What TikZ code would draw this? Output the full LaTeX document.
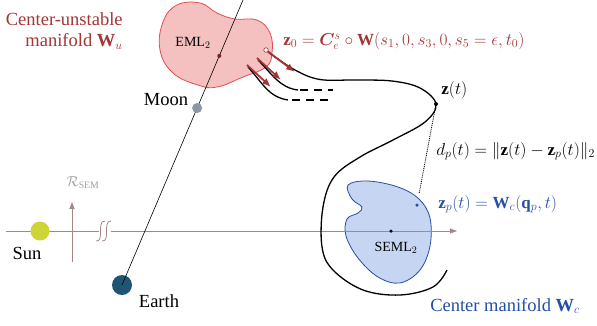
\documentclass[tikz,border=0pt]{standalone}
\usepackage{amsmath}
\usepackage{bm}
\usepackage{fontspec}
\setmainfont{Liberation Serif}
\usetikzlibrary{arrows.meta}
\definecolor{cured}{RGB}{165,52,52}
\definecolor{cufill}{RGB}{244,192,192}
\definecolor{cuedge}{RGB}{226,78,78}
\definecolor{cblue}{RGB}{38,78,165}
\definecolor{cfill}{RGB}{198,214,242}
\definecolor{axcol}{RGB}{165,135,135}
\definecolor{suncol}{RGB}{205,212,55}
\definecolor{earthcol}{RGB}{30,85,115}
\definecolor{mooncol}{RGB}{140,150,165}

\begin{document}
\begin{tikzpicture}[x=1pt, y=-1pt, >={Stealth[length=7pt]}, line width=0.8pt,
  font=\fontsize{18.5}{21}\selectfont,
  eq/.style={font=\fontsize{17}{20}\selectfont},
  small/.style={font=\fontsize{14}{16}\selectfont},
  body/.style={circle, inner sep=0pt, minimum size=#1},
  pt/.style={circle, fill, inner sep=0pt, minimum size=4pt},
  redarrow/.style={cured, line width=1.8pt, -{Latex[length=9pt,width=7pt]}}]
  \useasboundingbox (0,0) rectangle (597,325);
  \coordinate (T) at (243,0);
  \node[body=20pt, fill=earthcol] (earth) at (122,285) {};
  % variedad centro-inestable
  \draw[cuedge, fill=cufill] plot[smooth cycle, tension=0.7] coordinates
    {(177,5) (200,3) (217,13) (235,19) (257,20) (270,33) (272,53) (266,67)
     (243,77) (217,87) (198,85) (173,73) (160,50) (163,22)};
  % variedad centro
  \draw[cblue, fill=cfill] plot[smooth cycle, tension=0.6] coordinates
    {(348,185) (368,181) (398,187) (419,199) (430,218) (430,246) (420,270)
     (400,283) (378,277) (358,258) (346,236) (347,219) (358,213) (362,207)
     (352,199)};
  % eje Sol-Tierra
  \draw[axcol, -{Triangle[length=7pt,width=5pt]}] (6,231) -- (457,231);
  \draw[axcol, -{Triangle[length=7pt,width=5pt]}] (72,262) -- (72,202);
  \draw[axcol, fill=white, draw=none] (99,225) rectangle (111,237);
  \draw[axcol] (96,241) .. controls (105,242) and (96,221) .. (105,221);
  \draw[axcol] (102,241) .. controls (111,242) and (102,221) .. (111,221);
  \node[gray!75, small] (rsem) at (83,183) {$\mathcal{R}_{\mathrm{SEM}}$};
  % linea Tierra-Luna
  \draw[line width=0.6pt] (earth.center) -- (T)
    node[pos=0.621, body=10pt, fill=mooncol] (moon) {}
    node[pos=0.804, pt, fill=cured!70!black] (eml2) {};
  \node[body=19pt, fill=suncol] (sun) at (40,231) {};
  % trayectorias
  \node[pt, fill=white, draw=cured, line width=0.6pt, minimum size=4.5pt] (z0) at (266,50) {};
  \node[pt] (zt) at (436,104) {};
  \node[pt, fill=cblue, minimum size=3.5pt] (zp) at (417,205) {};
  \node[pt, minimum size=3.5pt] (seml2) at (391,231) {};
  \draw[line width=1.3pt] plot[smooth, tension=0.6] coordinates
    {(268,52) (295,70) (320,79.5) (355,80) (392,81) (420,88) (zt)
     (425,122) (393,140) (360,157) (334,177) (323,207) (322,247) (333,270)
     (363,290) (400,295) (433,287) (447,270)};
  \draw[line width=1.3pt] (258,60) .. controls (272,74) and (280,88) .. (298,90);
  \draw[line width=1.3pt, dash pattern=on 8pt off 6pt] (300,90) -- (333,90);
  \draw[line width=1.3pt] (248,67) .. controls (262,82) and (268,97) .. (288,100);
  \draw[line width=1.3pt, dash pattern=on 8pt off 6pt] (292,100) -- (333,100);
  \draw[redarrow] (z0) -- (295,72);
  \draw[redarrow] (257,58) -- (281,80);
  \draw[redarrow] (247,65) -- (271,87);
  \draw[densely dotted, line width=0.9pt, shorten >=9pt] (zt) -- (zp);
  % etiquetas
  \node[cured, align=right, anchor=east, inner sep=1pt] (cu) at (124,31) {Center-unstable\\manifold $\mathbf{W}_u$};
  \node[small] at (193,43) {EML$_2$};
  \node at (166,100) {Moon};
  \node at (27,253) {Sun};
  \node at (159,301) {Earth};
  \node[cured, eq, anchor=west, inner sep=1pt] at (282,41) {$\mathbf{z}_0 = \bm{C}_e^s \circ \mathbf{W}(s_1, 0, s_3, 0, s_5 = \epsilon, t_0)$};
  \node[eq, anchor=west, inner sep=1pt] at (440,90) {$\mathbf{z}(t)$};
  \node[eq, anchor=west, inner sep=1pt] at (435,151) {$d_p(t) = \|\mathbf{z}(t) - \mathbf{z}_p(t)\|_2$};
  \node[cblue, eq, anchor=west, inner sep=1pt] at (437,204) {$\mathbf{z}_p(t) = \mathbf{W}_c(\mathbf{q}_p, t)$};
  \node[small] at (396,248) {SEML$_2$};
  \node[cblue] at (505,306) {Center manifold $\mathbf{W}_c$};
\end{tikzpicture}
\end{document}
